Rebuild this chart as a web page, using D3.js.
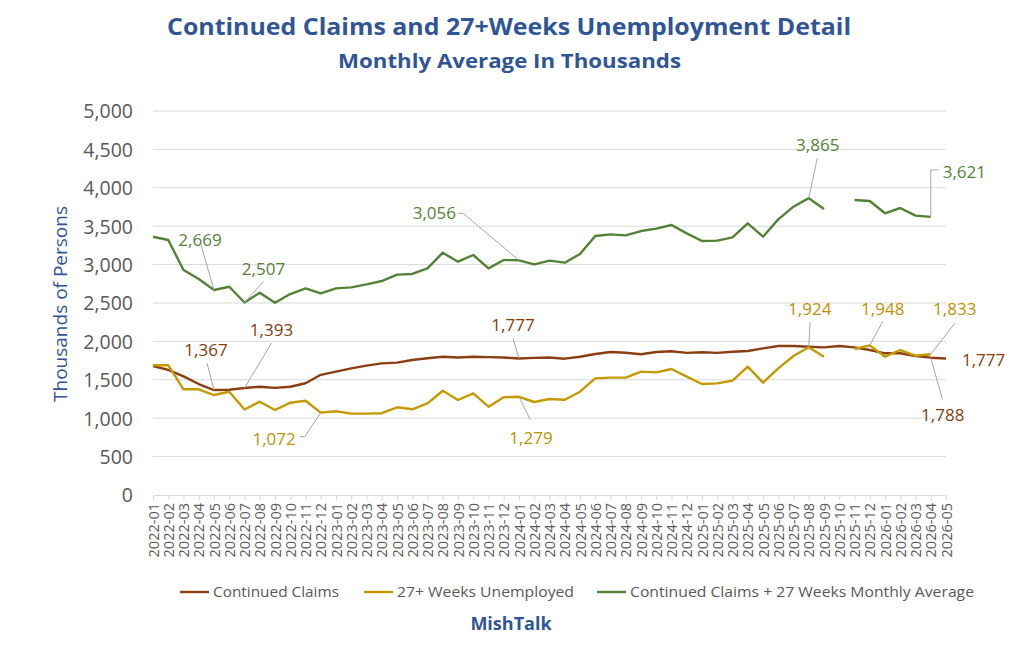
<!DOCTYPE html>
<html>
<head>
<meta charset="utf-8">
<script src="https://cdn.jsdelivr.net/npm/d3@7/dist/d3.min.js"></script>
<style>
  html, body { margin: 0; padding: 0; background: #ffffff; }
  svg { display: block; font-family: "Open Sans", "Noto Sans", sans-serif; }
</style>
</head>
<body>
<svg id="chart" width="1024" height="661"></svg>
<script>
// ---------------- DATA ----------------
const months = [
  "2022-01","2022-02","2022-03","2022-04","2022-05","2022-06","2022-07","2022-08","2022-09","2022-10","2022-11","2022-12",
  "2023-01","2023-02","2023-03","2023-04","2023-05","2023-06","2023-07","2023-08","2023-09","2023-10","2023-11","2023-12",
  "2024-01","2024-02","2024-03","2024-04","2024-05","2024-06","2024-07","2024-08","2024-09","2024-10","2024-11","2024-12",
  "2025-01","2025-02","2025-03","2025-04","2025-05","2025-06","2025-07","2025-08","2025-09","2025-10","2025-11","2025-12",
  "2026-01","2026-02","2026-03","2026-04","2026-05"
];

const continuedClaims = [
  1680,1630,1545,1445,1367,1370,1393,1410,1395,1410,1455,1565,
  1606,1649,1684,1714,1723,1758,1780,1801,1790,1801,1795,1790,
  1777,1785,1790,1775,1800,1836,1862,1853,1832,1862,1871,1850,
  1858,1850,1866,1875,1910,1940,1940,1931,1922,1940,1922,1888,
  1845,1845,1810,1788,1777
];

const weeks27 = [
  1690,1690,1376,1376,1302,1345,1114,1215,1107,1202,1228,1072,
  1090,1059,1059,1065,1142,1116,1194,1358,1237,1324,1150,1272,
  1279,1211,1250,1241,1345,1519,1528,1528,1606,1597,1641,1541,
  1445,1454,1489,1671,1463,1649,1810,1924,1801,null,1901,1948,
  1801,1888,1814,1833
];

const combined = [
  3363,3320,2930,2812,2669,2712,2507,2634,2504,2617,2691,2626,
  2691,2704,2743,2786,2869,2878,2951,3155,3038,3125,2951,3060,
  3056,3004,3051,3025,3138,3372,3394,3381,3437,3468,3516,3407,
  3307,3312,3355,3537,3363,3589,3754,3865,3724,null,3841,3828,
  3668,3737,3637,3621
];

const yTicks = [0,500,1000,1500,2000,2500,3000,3500,4000,4500,5000];

const seriesNames = ["Continued Claims","27+ Weeks Unemployed","Continued Claims + 27 Weeks Monthly Average"];

// ---------------- STYLE / LAYOUT ----------------
const colors = { cc: "#8B3E12", wk: "#C49A00", cb: "#548235" };
const labelColors = { cc: "#843C0C", wk: "#BF9000", cb: "#548235" };
const titleBlue = "#2F5597";
const gray = "#595959";

const svg = d3.select("#chart");
const x = d3.scalePoint().domain(months).range([153, 946]);
const y = d3.scaleLinear().domain([0, 5000]).range([495, 111]);

// titles
svg.append("text").attr("x", 509).attr("y", 35).attr("text-anchor", "middle")
  .attr("font-size", 23).attr("font-weight", 700).attr("fill", titleBlue)
  .attr("textLength", 684).attr("lengthAdjust", "spacingAndGlyphs")
  .text("Continued Claims and 27+Weeks Unemployment Detail");
svg.append("text").attr("x", 509.5).attr("y", 68).attr("text-anchor", "middle")
  .attr("font-size", 19.5).attr("font-weight", 700).attr("fill", titleBlue)
  .attr("textLength", 343).attr("lengthAdjust", "spacingAndGlyphs")
  .text("Monthly Average In Thousands");

// gridlines
svg.append("g").selectAll("line").data(yTicks.filter(d => d > 0)).join("line")
  .attr("x1", x.range()[0]).attr("x2", x.range()[1])
  .attr("y1", d => y(d)).attr("y2", d => y(d))
  .attr("stroke", "#D9D9D9").attr("stroke-width", 1);

// y axis
const yAxis = svg.append("g").attr("transform", "translate(133,0)")
  .call(d3.axisLeft(y).tickValues(yTicks).tickSize(0).tickPadding(0).tickFormat(d3.format(",")));
yAxis.select(".domain").remove();
yAxis.selectAll("text").attr("font-size", 19.5).attr("fill", gray)
  .attr("font-family", "'Open Sans', sans-serif").attr("dy", "0.35em");

// y axis title
svg.append("text").attr("transform", "translate(67,304) rotate(-90)")
  .attr("text-anchor", "middle").attr("font-size", 19).attr("fill", titleBlue)
  .text("Thousands of Persons");

// x axis
const xAxis = svg.append("g").attr("transform", `translate(0,${y(0)})`)
  .call(d3.axisBottom(x).tickSize(5).tickSizeOuter(0));
xAxis.select(".domain").attr("stroke", "#D9D9D9").attr("stroke-width", 1.2);
xAxis.selectAll(".tick line").attr("stroke", "#D9D9D9");
xAxis.selectAll("text")
  .attr("font-size", 14.5).attr("fill", gray).attr("font-family", "'Open Sans', sans-serif")
  .attr("text-anchor", "end").attr("dy", null).attr("y", 0)
  .attr("transform", "translate(5,8) rotate(-90)");

// lines
const line = d3.line().defined(d => d.v != null).x(d => x(d.m)).y(d => y(d.v));
const mk = arr => arr.map((v, i) => ({ m: months[i], v }));
const series = [
  { key: "cc", data: mk(continuedClaims) },
  { key: "wk", data: mk(weeks27) },
  { key: "cb", data: mk(combined) }
];
svg.append("g").selectAll("path").data(series).join("path")
  .attr("d", s => line(s.data)).attr("fill", "none")
  .attr("stroke", s => colors[s.key]).attr("stroke-width", 2.4)
  .attr("stroke-linejoin", "round");

// annotations: series key, month index, label offset (text center), leader path offsets
const arrays = { cc: continuedClaims, wk: weeks27, cb: combined };
const fmt = d3.format(",");
const annotations = [
  { k: "cb", i: 4,  tx: -14, ty: -50, anchor: "middle", lead: [[-13,-45]] },
  { k: "cb", i: 6,  tx: 19,  ty: -33, anchor: "middle", lead: [[19,-21]] },
  { k: "cb", i: 24, tx: -63, ty: -47, anchor: "end",    lead: [[-61,-47],[-56,-47]] },
  { k: "cb", i: 43, tx: 9,   ty: -53, anchor: "middle", lead: [[8.5,-40]] },
  { k: "cb", i: 51, tx: 12,  ty: -45, anchor: "start",  lead: [[8,-47],[0,-47]] },
  { k: "cc", i: 4,  tx: -8,  ty: -40, anchor: "middle", lead: [[-7,-27]] },
  { k: "cc", i: 6,  tx: 27,  ty: -58, anchor: "middle", lead: [[27,-45]] },
  { k: "cc", i: 24, tx: -6,  ty: -33, anchor: "middle", lead: [[-6,-20]] },
  { k: "cc", i: 51, tx: 12,  ty: 57,  anchor: "middle", lead: [[11.5,41]] },
  { k: "cc", i: 52, tx: 16,  ty: 2,   anchor: "start",  lead: [] },
  { k: "wk", i: 11, tx: -25, ty: 26,  anchor: "end",    lead: [[-21,24],[-16,24]] },
  { k: "wk", i: 24, tx: 12,  ty: 41,  anchor: "middle", lead: [[11,22.5]] },
  { k: "wk", i: 43, tx: 1,   ty: -38, anchor: "middle", lead: [[1.25,-25.5]] },
  { k: "wk", i: 47, tx: 13,  ty: -36, anchor: "middle", lead: [[13,-24]] },
  { k: "wk", i: 51, tx: 24,  ty: -45, anchor: "middle", lead: [[24,-31]] }
];
const ag = svg.append("g");
annotations.forEach(a => {
  const px = x(months[a.i]), py = y(arrays[a.k][a.i]);
  if (a.lead.length) {
    const pts = a.lead.map(p => [px + p[0], py + p[1]]).concat([[px, py]]);
    ag.append("path").attr("d", d3.line()(pts)).attr("fill", "none")
      .attr("stroke", "#A6A6A6").attr("stroke-width", 1);
  }
  ag.append("text").attr("x", px + a.tx).attr("y", py + a.ty).attr("dy", "0.35em")
    .attr("text-anchor", a.anchor).attr("font-size", 17).attr("fill", labelColors[a.k])
    .text(fmt(arrays[a.k][a.i]));
});

// legend
const legendItems = [
  { key: "cc", name: seriesNames[0], x1: 180, len: 126 },
  { key: "wk", name: seriesNames[1], x1: 364, len: 177 },
  { key: "cb", name: seriesNames[2], x1: 597, len: 344 }
];
const lg = svg.append("g");
legendItems.forEach(it => {
  lg.append("line").attr("x1", it.x1).attr("x2", it.x1 + 29).attr("y1", 592).attr("y2", 592)
    .attr("stroke", colors[it.key]).attr("stroke-width", 2.4);
  lg.append("text").attr("x", it.x1 + 33).attr("y", 592).attr("dy", "0.35em")
    .attr("font-size", 15).attr("fill", gray)
    .attr("textLength", it.len).attr("lengthAdjust", "spacingAndGlyphs")
    .text(it.name);
});

// footer
svg.append("text").attr("x", 511).attr("y", 624).attr("dy", "0.35em").attr("text-anchor", "middle")
  .attr("font-size", 18).attr("font-weight", 700).attr("fill", titleBlue)
  .text("MishTalk");
</script>
</body>
</html>
